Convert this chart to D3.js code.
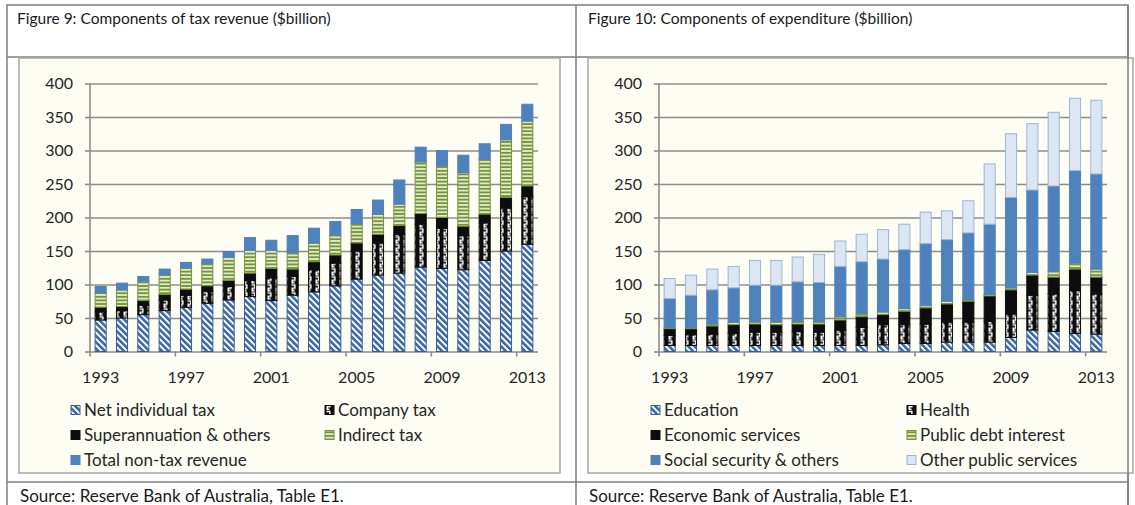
<!DOCTYPE html>
<html>
<head>
<meta charset="utf-8">
<script src="https://cdn.jsdelivr.net/npm/d3@7/dist/d3.min.js"></script>
<style>
  body { margin: 0; background: #fff; }
  svg text { font-family: Lato, "Open Sans", sans-serif; fill: #262626; }
</style>
</head>
<body>
<svg id="page" width="1135" height="505"></svg>
<script>
// categories
var years = [1993, 1994, 1995, 1996, 1997, 1998, 1999, 2000, 2001, 2002, 2003,
             2004, 2005, 2006, 2007, 2008, 2009, 2010, 2011, 2012, 2013];
var labelYears = [1993, 1997, 2001, 2005, 2009, 2013];
var yTicks = [0, 50, 100, 150, 200, 250, 300, 350, 400];

// Figure 9: tax revenue ($billion)
var netIndividual = [47, 50, 55, 61, 66, 72, 77, 82, 76, 84, 89, 98, 108, 114, 117, 126, 124, 122, 136, 150, 160];
var companyTax    = [12, 11, 14, 16, 18, 18, 20, 24, 34, 28, 33, 34, 42, 48, 58, 64, 60, 51, 56, 64, 71];
var superOthers   = [7, 6, 7, 8, 9, 8, 9, 11, 14, 11, 12, 12, 12, 13, 13, 16, 16, 14, 13, 16, 16];
var indirectTax   = [22, 25, 29, 30, 32, 33, 35, 34, 27, 25, 28, 30, 29, 30, 32, 77, 77, 80, 82, 86, 97];
var nonTax        = [9, 10, 7, 8, 8, 7, 8, 19, 15, 25, 22, 20, 21, 21, 36, 22, 23, 26, 23, 23, 25];

// Figure 10: expenditure ($billion)
var education      = [9, 9, 9, 9, 9, 9, 9, 9, 9, 9, 10, 12, 12, 14, 14, 14, 21, 32, 30, 27, 26];
var health         = [15, 16, 17, 18, 20, 20, 21, 20, 23, 27, 30, 28, 29, 30, 30, 31, 35, 52, 56, 64, 60];
var economic       = [10, 9, 12, 13, 12, 11, 11, 12, 15, 16, 15, 20, 24, 27, 31, 38, 36, 30, 25, 32, 25];
var debtInterest   = [2, 2, 3, 4, 4, 5, 4, 4, 5, 5, 4, 4, 4, 4, 3, 2, 3, 4, 9, 9, 12];
var socialSecurity = [43, 48, 51, 51, 54, 54, 59, 58, 75, 77, 79, 88, 92, 92, 99, 105, 135, 123, 127, 138, 142];
var otherPublic    = [30, 30, 31, 32, 37, 37, 37, 42, 38, 41, 44, 38, 47, 43, 48, 90, 95, 99, 110, 108, 110];

var revenueKeys = ['Net individual tax', 'Company tax', 'Superannuation & others', 'Indirect tax', 'Total non-tax revenue'];
var revenueSeries = [netIndividual, companyTax, superOthers, indirectTax, nonTax];
var expenditureKeys = ['Education', 'Health', 'Economic services', 'Public debt interest', 'Social security & others', 'Other public services'];
var expenditureSeries = [education, health, economic, debtInterest, socialSecurity, otherPublic];

function toRows(keys, series) {
  return years.map(function(yr, i) {
    var row = { year: yr };
    keys.forEach(function(k, j) { row[k] = series[j][i]; });
    return row;
  });
}

var svg = d3.select('#page');

// fill patterns
var defs = svg.append('defs');
var hatch = defs.append('pattern')
    .attr('id', 'hatch')
    .attr('patternUnits', 'userSpaceOnUse')
    .attr('width', 4.5).attr('height', 4.5)
    .attr('patternTransform', 'rotate(-45)');
hatch.append('rect').attr('width', 4.5).attr('height', 4.5).attr('fill', '#ffffff');
hatch.append('rect').attr('width', 2.6).attr('height', 4.5).attr('fill', '#3c68a8');

var confetti = defs.append('pattern')
    .attr('id', 'confetti')
    .attr('patternUnits', 'userSpaceOnUse')
    .attr('width', 8).attr('height', 8);
confetti.append('rect').attr('width', 8).attr('height', 8).attr('fill', '#0d0d0d');
confetti.append('path')
    .attr('d', 'M1.5,0.8h4v1.4h-4z M4.2,2h1.4v2.2h-1.4z M1.5,4h4v1.4h-4z M1.5,5.2h1.4v1.8h-1.4z M1.5,6.6h3v1.4h-3z')
    .attr('fill', '#ffffff');

var stripes = defs.append('pattern')
    .attr('id', 'hstripe')
    .attr('patternUnits', 'userSpaceOnUse')
    .attr('width', 4).attr('height', 3.6);
stripes.append('rect').attr('width', 4).attr('height', 3.6).attr('fill', '#dfe9c8');
stripes.append('rect').attr('width', 4).attr('height', 1.8).attr('fill', '#77933c');

var revenueFills = ['url(#hatch)', 'url(#confetti)', '#0d0d0d', 'url(#hstripe)', '#4f81bd'];
var revenueStrokes = ['#3a5f95', '#0d0d0d', '#0d0d0d', '#77933c', '#4f81bd'];
var expenditureFills = ['url(#hatch)', 'url(#confetti)', '#0d0d0d', 'url(#hstripe)', '#4f81bd', '#dce6f2'];
var expenditureStrokes = ['#3a5f95', '#0d0d0d', '#0d0d0d', '#77933c', '#4f81bd', '#9ab6d8'];

// table frame
var frame = svg.append('g').attr('fill', 'none').attr('stroke', '#7f7f7f').attr('stroke-width', 1.5);
frame.append('rect').attr('x', 7).attr('y', 5).attr('width', 1121).attr('height', 510);
frame.append('line').attr('x1', 7).attr('x2', 1128).attr('y1', 57).attr('y2', 57);
frame.append('line').attr('x1', 7).attr('x2', 1128).attr('y1', 482).attr('y2', 482);
frame.append('line').attr('x1', 576).attr('x2', 576).attr('y1', 5).attr('y2', 505);

svg.append('text').attr('x', 17).attr('y', 24).style('font-size', '15.5px').style('fill', '#1a1a1a')
  .text('Figure 9: Components of tax revenue ($billion)');
svg.append('text').attr('x', 588).attr('y', 24).style('font-size', '15.5px').style('fill', '#1a1a1a')
  .text('Figure 10: Components of expenditure ($billion)');
svg.append('text').attr('x', 20).attr('y', 502).style('font-size', '17px').style('fill', '#1a1a1a')
  .text('Source: Reserve Bank of Australia, Table E1.');
svg.append('text').attr('x', 589).attr('y', 502).style('font-size', '17px').style('fill', '#1a1a1a')
  .text('Source: Reserve Bank of Australia, Table E1.');

function drawChart(opts) {
  var width = 448, height = 268;

  svg.append('rect')
      .attr('x', opts.boxX).attr('y', 58)
      .attr('width', opts.boxW).attr('height', 415)
      .attr('fill', '#fdfdf4')
      .attr('stroke', '#a6a6a6').attr('stroke-width', 1.5);

  var g = svg.append('g').attr('transform', 'translate(' + opts.left + ', 83.5)');

  var x = d3.scaleBand()
      .domain(years)
      .range([0, width])
      .paddingInner(0.48)
      .paddingOuter(0.24);
  var y = d3.scaleLinear().domain([0, 400]).range([height, 0]);

  // gridlines
  g.append('g')
      .call(d3.axisLeft(y).tickValues(yTicks).tickSize(-width).tickFormat(''))
      .call(function(s) {
        s.select('.domain').remove();
        s.selectAll('line').attr('stroke', '#8c8c8c').attr('stroke-width', 1.6);
      });

  // y axis
  g.append('g')
      .call(d3.axisLeft(y).tickValues(yTicks).tickSize(5).tickSizeOuter(0).tickPadding(12))
      .call(function(s) {
        s.select('.domain').attr('stroke', '#8c8c8c').attr('stroke-width', 1.6)
          .attr('d', 'M0,0V' + (height + 5));
        s.selectAll('line').attr('stroke', '#8c8c8c').attr('stroke-width', 1.6);
        s.selectAll('text').style('font-size', '16px').style('fill', '#262626');
      });

  // x labels
  g.append('g')
      .attr('transform', 'translate(0, ' + height + ')')
      .call(d3.axisBottom(x).tickValues(labelYears).tickSize(0).tickPadding(20))
      .call(function(s) {
        s.select('.domain').remove();
        s.selectAll('text').style('font-size', '16px').style('fill', '#262626');
      });

  // category tick marks between groups of four
  var gap = x.step() * x.paddingInner() / 2;
  g.append('g').selectAll('line')
      .data(labelYears.slice(1))
      .enter()
      .append('line')
      .attr('x1', function(d) { return x(d) - gap; })
      .attr('x2', function(d) { return x(d) - gap; })
      .attr('y1', height).attr('y2', height + 5)
      .attr('stroke', '#8c8c8c').attr('stroke-width', 1.6);

  var rows = toRows(opts.keys, opts.series);
  var stacked = d3.stack().keys(opts.keys)(rows);

  g.append('g').selectAll('g')
      .data(stacked)
      .enter()
      .append('g')
      .attr('fill', function(d, i) { return opts.fills[i]; })
      .attr('stroke', function(d, i) { return opts.strokes[i]; })
      .attr('stroke-width', 1)
    .selectAll('rect')
      .data(function(d) { return d; })
      .enter()
      .append('rect')
      .attr('x', function(d) { return x(d.data.year); })
      .attr('y', function(d) { return y(d[1]); })
      .attr('width', x.bandwidth())
      .attr('height', function(d) { return y(d[0]) - y(d[1]); });

  // legend, two columns
  var legend = svg.append('g').selectAll('g')
      .data(opts.keys)
      .enter()
      .append('g')
      .attr('transform', function(d, i) {
        var col = i % 2, row = Math.floor(i / 2);
        return 'translate(' + opts.legendX[col] + ', ' + (410 + row * 25) + ')';
      });
  legend.append('rect')
      .attr('x', 0).attr('y', -4.5)
      .attr('width', 9).attr('height', 9)
      .attr('fill', function(d, i) { return opts.fills[i]; })
      .attr('stroke', function(d, i) { return opts.strokes[i]; })
      .attr('stroke-width', 1);
  legend.append('text')
      .attr('x', 13).attr('y', 6)
      .style('font-size', '17px')
      .text(function(d) { return d; });
}

drawChart({
  boxX: 19, boxW: 541, left: 90,
  keys: revenueKeys, series: revenueSeries,
  fills: revenueFills, strokes: revenueStrokes,
  legendX: [71, 325]
});

drawChart({
  boxX: 588, boxW: 545, left: 659,
  keys: expenditureKeys, series: expenditureSeries,
  fills: expenditureFills, strokes: expenditureStrokes,
  legendX: [651, 907]
});

// redraw the right frame edge over the chart box
svg.append('line').attr('x1', 1128).attr('x2', 1128).attr('y1', 5).attr('y2', 505)
  .attr('stroke', '#7f7f7f').attr('stroke-width', 1.5);
</script>
</body>
</html>
